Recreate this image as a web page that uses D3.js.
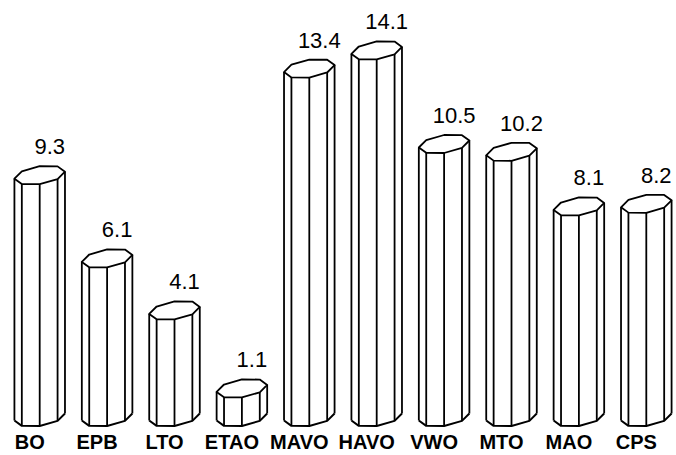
<!DOCTYPE html>
<html>
<head>
<meta charset="utf-8">
<script src="https://cdn.jsdelivr.net/npm/d3@7"></script>
<style>
  body { margin: 0; background: #fff; }
  svg { display: block; }
</style>
</head>
<body>
<svg id="chart" width="676" height="455"></svg>
<script>
const categories = ["BO", "EPB", "LTO", "ETAO", "MAVO", "HAVO", "VWO", "MTO", "MAO", "CPS"];
const values = [9.3, 6.1, 4.1, 1.1, 13.4, 14.1, 10.5, 10.2, 8.1, 8.2];
const valueLabels = ["9.3", "6.1", "4.1", "1.1", "13.4", "14.1", "10.5", "10.2", "8.1", "8.2"];

const width = 676;
const height = 455;
const font = "'Liberation Sans', Arial, Helvetica, sans-serif";

const svg = d3.select("#chart");

const data = categories.map((c, i) => ({ cat: c, value: values[i], label: valueLabels[i] }));

const x = d3.scaleBand()
  .domain(categories)
  .range([6, 680])
  .paddingInner(0.25)
  .paddingOuter(0.125);

const y = d3.scaleLinear()
  .domain([0, 15])
  .range([417, 27]);

const rx = x.bandwidth() / 2;
const ry = 9;
const tilt = 3.5;   // right side of the ellipse sits higher

// octagon vertex at angle a (degrees) around centre (cx, cy)
function pt(cx, cy, a) {
  const t = a * Math.PI / 180;
  return [cx + rx * Math.cos(t), cy + ry * Math.sin(t) - tilt * Math.cos(t)];
}

const angles = d3.range(0, 360, 45);
const front = [0, 45, 90, 135, 180];
const line = d3.line();

const bars = svg.selectAll("g.bar")
  .data(data)
  .join("g")
  .attr("class", "bar");

bars.each(function(d) {
  const g = d3.select(this);
  const cx = x(d.cat) + rx;
  const yt = y(d.value);
  const yb = y(0);

  // white body silhouette
  const body = [180, 225, 270, 315, 360].map(a => pt(cx, yt, a))
    .concat([0, 45, 90, 135, 180].map(a => pt(cx, yb, a)));
  g.append("path")
    .attr("d", line(body) + "Z")
    .attr("fill", "#fff")
    .attr("stroke", "none");

  // vertical edges of the front faces
  front.forEach(a => {
    g.append("path")
      .attr("d", line([pt(cx, yt, a), pt(cx, yb, a)]))
      .attr("fill", "none")
      .attr("stroke", "#000")
      .attr("stroke-width", 1.8);
  });

  // top octagon
  g.append("path")
    .attr("d", line(angles.map(a => pt(cx, yt, a))) + "Z")
    .attr("fill", "#fff")
    .attr("stroke", "#000")
    .attr("stroke-width", 1.8)
    .attr("stroke-linejoin", "round");

  // bottom front edge
  g.append("path")
    .attr("d", line(front.map(a => pt(cx, yb, a))))
    .attr("fill", "none")
    .attr("stroke", "#000")
    .attr("stroke-width", 2)
    .attr("stroke-linejoin", "round");
});

// value labels
svg.selectAll("text.value")
  .data(data)
  .join("text")
  .attr("class", "value")
  .attr("x", d => x(d.cat) + rx + 10)
  .attr("y", d => y(d.value) - 21)
  .attr("text-anchor", "middle")
  .attr("font-family", font)
  .attr("font-size", "22px")
  .attr("fill", "#000")
  .text(d => d.label);

// category labels
svg.selectAll("text.cat")
  .data(data)
  .join("text")
  .attr("class", "cat")
  .attr("x", d => x(d.cat) + rx - 10)
  .attr("y", 449)
  .attr("text-anchor", "middle")
  .attr("font-family", font)
  .attr("font-size", "20px")
  .attr("font-weight", "bold")
  .attr("fill", "#000")
  .text(d => d.cat);
</script>
</body>
</html>
